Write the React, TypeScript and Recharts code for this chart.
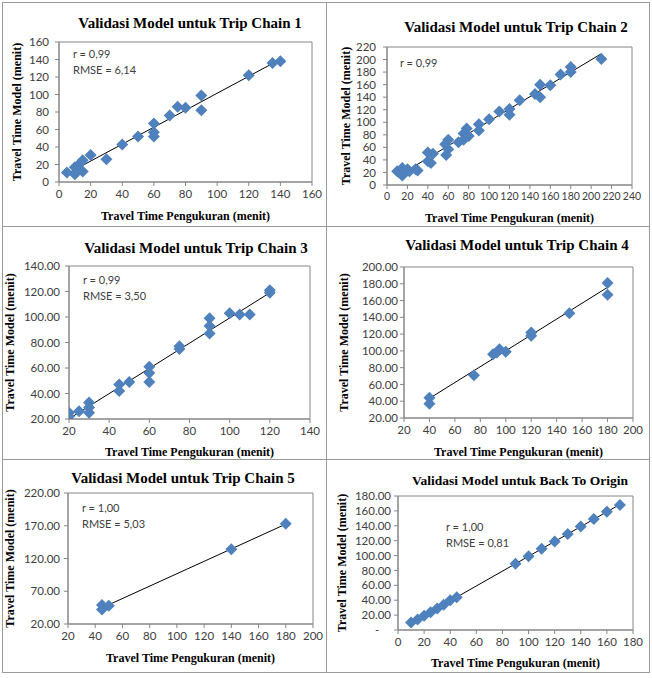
import React from 'react'
import {
  ScatterChart,
  Scatter,
  XAxis,
  YAxis,
  ReferenceLine,
  ReferenceArea,
  Label,
} from 'recharts'

// Trip Chain 1
const chain1Measured = [5, 10, 10, 12, 13, 15, 15, 20, 30, 40, 50, 60, 60, 60, 70, 75, 80, 90, 90, 120, 135, 140]
const chain1Model = [11, 9, 17, 15, 21, 25, 12, 31, 26, 43, 52, 67, 57, 52, 76, 86, 85, 99, 82, 122, 136, 138]

// Trip Chain 2
const chain2Measured = [10, 12, 15, 15, 20, 22, 28, 30, 40, 40, 43, 45, 57, 60, 58, 60, 70, 75, 75, 78, 80, 90, 90, 100, 110, 120, 120, 130, 145, 150, 150, 160, 170, 180, 180, 210]
const chain2Model = [22, 20, 27, 15, 25, 22, 25, 23, 52, 38, 35, 50, 65, 72, 48, 57, 68, 82, 72, 90, 78, 97, 87, 105, 117, 121, 112, 135, 145, 160, 140, 159, 176, 188, 180, 201]

// Trip Chain 3
const chain3Measured = [20, 20, 25, 30, 30, 30, 45, 45, 50, 60, 60, 60, 75, 75, 90, 90, 90, 100, 105, 110, 120, 120]
const chain3Model = [25, 22, 26, 33, 29, 25, 47, 42, 49, 61, 56, 49, 77, 75, 99, 93, 87, 103, 102, 102, 121, 119]

// Trip Chain 4
const chain4Measured = [40, 40, 75, 90, 93, 95, 100, 120, 120, 150, 180, 180]
const chain4Model = [44, 37, 71, 96, 98, 102, 99, 122, 118, 145, 181, 167]

// Trip Chain 5
const chain5Measured = [45, 45, 50, 140, 180]
const chain5Model = [49, 42, 48, 134, 173]

// Back To Origin
const originMeasured = [10, 15, 20, 25, 30, 35, 40, 45, 90, 100, 110, 120, 130, 140, 150, 160, 170]
const originModel = [10, 14, 19, 24, 29, 34, 40, 44, 89, 99, 109, 119, 129, 139, 149, 159, 168]

const ticks0to160 = [0, 20, 40, 60, 80, 100, 120, 140, 160]
const ticks0to220 = [0, 20, 40, 60, 80, 100, 120, 140, 160, 180, 200, 220]
const ticks0to240 = [0, 20, 40, 60, 80, 100, 120, 140, 160, 180, 200, 220, 240]
const ticks20to140 = [20, 40, 60, 80, 100, 120, 140]
const ticks20to200 = [20, 40, 60, 80, 100, 120, 140, 160, 180, 200]
const ticks20to220by50 = [20, 70, 120, 170, 220]
const ticks0to180 = [0, 20, 40, 60, 80, 100, 120, 140, 160, 180]

const BLUE = '#4F81BD'
const AXIS = '#868686'
const TICK_FONT = 'Lato, "Open Sans", sans-serif'
const SERIF = '"Liberation Serif", "Times New Roman", serif'

const plain = (v: number) => String(v)
const twoDec = (v: number) => v.toFixed(2)
const accounting = (v: number) => (v === 0 ? '-' + '\u00a0'.repeat(4) : v.toFixed(2))

const panels = [
  {
    title: 'Validasi Model untuk Trip Chain 1', titleX: 190, titleY: 23, titleSize: 15,
    xs: chain1Measured, ys: chain1Model,
    left: 0, top: 0, width: 326, height: 226,
    yWidth: 59, right: 14, plotTop: 42, xHeight: 44,
    xDomain: [0, 160], xTicks: ticks0to160, yDomain: [0, 160], yTicks: ticks0to160,
    yFmt: plain, yTickMargin: 6, xLabelOffset: 6, yLabelOffset: 17, xTickFont: 11.5,
    notes: ['r = 0,99', 'RMSE = 6,14'], noteX: 73, noteY: 54,
  },
  {
    title: 'Validasi Model untuk Trip Chain 2', titleX: 516, titleY: 27, titleSize: 15,
    xs: chain2Measured, ys: chain2Model,
    left: 326, top: 0, width: 326, height: 226,
    yWidth: 61, right: 20, plotTop: 47, xHeight: 41,
    xDomain: [0, 240], xTicks: ticks0to240, yDomain: [0, 220], yTicks: ticks0to220,
    yFmt: plain, yTickMargin: 7, xLabelOffset: 4, yLabelOffset: 20, xTickFont: 10.5,
    notes: ['r = 0,99'], noteX: 400, noteY: 63,
  },
  {
    title: 'Validasi Model untuk Trip Chain 3', titleX: 196, titleY: 248, titleSize: 15,
    xs: chain3Measured, ys: chain3Model,
    left: 0, top: 226, width: 326, height: 233,
    yWidth: 69, right: 16, plotTop: 40, xHeight: 40,
    xDomain: [20, 140], xTicks: ticks20to140, yDomain: [20, 140], yTicks: ticks20to140,
    yFmt: twoDec, yTickMargin: 5, xLabelOffset: 3, yLabelOffset: 10, xTickFont: 11.5,
    notes: ['r = 0,99', 'RMSE = 3,50'], noteX: 83, noteY: 280,
  },
  {
    title: 'Validasi Model untuk Trip Chain 4', titleX: 517, titleY: 245, titleSize: 15,
    xs: chain4Measured, ys: chain4Model,
    left: 326, top: 226, width: 326, height: 233,
    yWidth: 78, right: 19, plotTop: 41, xHeight: 41,
    xDomain: [20, 200], xTicks: ticks20to200, yDomain: [20, 200], yTicks: ticks20to200,
    yFmt: twoDec, yTickMargin: 2, xLabelOffset: 3, yLabelOffset: 18, xTickFont: 11.5,
    notes: [], noteX: 0, noteY: 0,
  },
  {
    title: 'Validasi Model untuk Trip Chain 5', titleX: 183, titleY: 478, titleSize: 15,
    xs: chain5Measured, ys: chain5Model,
    left: 0, top: 459, width: 326, height: 219,
    yWidth: 68, right: 13, plotTop: 34, xHeight: 54,
    xDomain: [20, 200], xTicks: ticks20to200, yDomain: [20, 220], yTicks: ticks20to220by50,
    yFmt: twoDec, yTickMargin: 4, xLabelOffset: 16, yLabelOffset: 10, xTickFont: 11.5,
    notes: ['r = 1,00', 'RMSE = 5,03'], noteX: 82, noteY: 508,
  },
  {
    title: 'Validasi Model untuk Back To Origin', titleX: 520, titleY: 481, titleSize: 13.5,
    xs: originMeasured, ys: originModel,
    left: 326, top: 459, width: 326, height: 219,
    yWidth: 72, right: 19, plotTop: 37, xHeight: 48,
    xDomain: [0, 180], xTicks: ticks0to180, yDomain: [0, 180], yTicks: ticks0to180,
    yFmt: accounting, yTickMargin: 3, xLabelOffset: 11, yLabelOffset: 16, xTickFont: 11.5,
    notes: ['r = 1,00', 'RMSE = 0,81'], noteX: 446, noteY: 527,
  },
]

// least squares line drawn across the measured range
function fitLine(xs: number[], ys: number[]) {
  const n = xs.length
  const mx = xs.reduce((a, b) => a + b, 0) / n
  const my = ys.reduce((a, b) => a + b, 0) / n
  let sxy = 0
  let sxx = 0
  xs.forEach((x, i) => {
    sxy += (x - mx) * (ys[i] - my)
    sxx += (x - mx) * (x - mx)
  })
  const b = sxy / sxx
  const a = my - b * mx
  const x0 = Math.min(...xs)
  const x1 = Math.max(...xs)
  return [{ x: x0, y: a + b * x0 }, { x: x1, y: a + b * x1 }]
}

const Diamond = (props: any) => {
  const { cx, cy } = props
  if (cx == null || cy == null) return <g />
  const r = 6
  return <path d={`M${cx},${cy - r}L${cx + r},${cy}L${cx},${cy + r}L${cx - r},${cy}Z`} fill={BLUE} />
}

const tickStyle = { fill: '#404040', fontSize: 11.5, fontFamily: TICK_FONT }
const axisLabelStyle = { fill: '#000', fontSize: 12, fontFamily: SERIF, fontWeight: 700 }

function Panel({ p }: { p: any }) {
  const data = p.xs.map((x: number, i: number) => ({ x, y: p.ys[i] }))
  const fit = fitLine(p.xs, p.ys)
  return (
    <div style={{ position: 'absolute', left: p.left, top: p.top }}>
      <ScatterChart
        width={p.width}
        height={p.height}
        margin={{ top: p.plotTop, right: p.right, bottom: 0, left: 0 }}
      >
        <XAxis
          type="number"
          dataKey="x"
          domain={p.xDomain}
          ticks={p.xTicks}
          interval={0}
          allowDataOverflow
          height={p.xHeight}
          stroke={AXIS}
          tickSize={4}
          tickMargin={4}
          tick={{ ...tickStyle, fontSize: p.xTickFont }}
        >
          <Label
            value="Travel Time Pengukuran (menit)"
            position="insideBottom"
            offset={p.xLabelOffset}
            style={axisLabelStyle}
          />
        </XAxis>
        <YAxis
          type="number"
          dataKey="y"
          domain={p.yDomain}
          ticks={p.yTicks}
          interval={0}
          allowDataOverflow
          width={p.yWidth}
          stroke={AXIS}
          tickSize={4}
          tickMargin={p.yTickMargin}
          tick={tickStyle}
          tickFormatter={p.yFmt}
        >
          <Label
            value="Travel Time Model (menit)"
            position="insideLeft"
            angle={-90}
            offset={p.yLabelOffset}
            style={{ ...axisLabelStyle, textAnchor: 'middle' }}
          />
        </YAxis>
        <ReferenceArea
          x1={p.xDomain[0]}
          x2={p.xDomain[1]}
          y1={p.yDomain[0]}
          y2={p.yDomain[1]}
          fill="none"
          stroke={AXIS}
          strokeWidth={1}
        />
        <Scatter data={data} shape={<Diamond />} isAnimationActive={false} />
        <ReferenceLine segment={fit} stroke="#000" strokeWidth={1} />
      </ScatterChart>
    </div>
  )
}

export default function App() {
  const line = '#9a9a9a'
  return (
    <div style={{ position: 'absolute', left: 0, top: 0, width: 652, height: 678, background: '#fff', overflow: 'hidden' }}>
      {/* table grid around the six charts */}
      <div style={{ position: 'absolute', left: 2, top: 2, width: 648, height: 671, border: `1px solid ${line}`, boxSizing: 'border-box' }} />
      <div style={{ position: 'absolute', left: 326, top: 2, width: 1, height: 671, background: line }} />
      <div style={{ position: 'absolute', left: 2, top: 226, width: 648, height: 1, background: line }} />
      <div style={{ position: 'absolute', left: 2, top: 459, width: 648, height: 1, background: line }} />

      {panels.map((p, i) => (
        <Panel key={i} p={p} />
      ))}

      {panels.map((p, i) => (
        <div
          key={'t' + i}
          style={{
            position: 'absolute',
            left: p.titleX - 160,
            top: p.titleY - 10,
            width: 320,
            lineHeight: '20px',
            textAlign: 'center',
            fontFamily: SERIF,
            fontWeight: 700,
            fontSize: p.titleSize,
            color: '#000',
            whiteSpace: 'nowrap',
          }}
        >
          {p.title}
        </div>
      ))}

      {panels.map((p, i) =>
        p.notes.map((n: string, j: number) => (
          <div
            key={'n' + i + '-' + j}
            style={{
              position: 'absolute',
              left: p.noteX,
              top: p.noteY - 8 + j * 16,
              lineHeight: '16px',
              fontFamily: TICK_FONT,
              fontSize: 11,
              color: '#404040',
              whiteSpace: 'nowrap',
            }}
          >
            {n}
          </div>
        ))
      )}
    </div>
  )
}
